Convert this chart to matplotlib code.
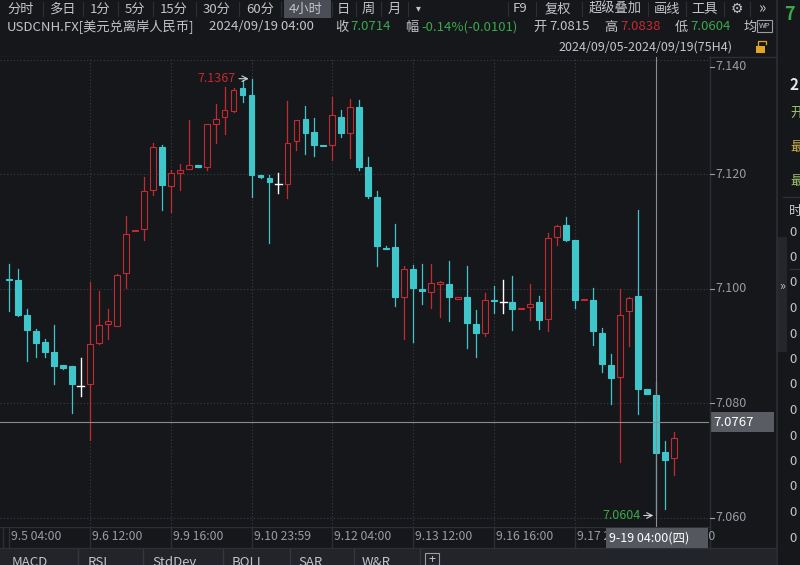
import matplotlib
matplotlib.use("Agg")
import matplotlib.pyplot as plt
from matplotlib.patches import Rectangle
from matplotlib.transforms import Bbox, TransformedBbox

plt.rcParams['font.family'] = ['Noto Sans CJK SC', 'DejaVu Sans']

# 4小时K线 USDCNH, 2024/09/05 - 2024/09/19, 75 根
opens = [7.1017, 7.1015, 7.0955, 7.0926, 7.0907, 7.0889, 7.0867, 7.0865, 7.0831, 7.0834,
         7.0906, 7.0939, 7.0935, 7.1028, 7.1101, 7.1104, 7.1173, 7.1247, 7.1180, 7.1202,
         7.1209, 7.1217, 7.1212, 7.1287, 7.1300, 7.1310, 7.1350, 7.1339, 7.1198, 7.1194,
         7.1183, 7.1183, 7.1258, 7.1296, 7.1274, 7.1252, 7.1252, 7.1300, 7.1273, 7.1317,
         7.1213, 7.1161, 7.1072, 7.1073, 7.0986, 7.1035, 7.1000, 7.0995, 7.1008, 7.1009,
         7.0983, 7.0985, 7.0939, 7.0923, 7.0981, 7.0977, 7.0977, 7.0964, 7.0969, 7.0977,
         7.0948, 7.1090, 7.1112, 7.1085, 7.0980, 7.0980, 7.0923, 7.0867, 7.0846, 7.0961,
         7.0987, 7.0825, 7.0815, 7.0715, 7.0704]
highs = [7.1044, 7.1034, 7.0965, 7.0930, 7.0912, 7.0937, 7.0867, 7.0865, 7.0879, 7.1012,
         7.0996, 7.0965, 7.1025, 7.1128, 7.1103, 7.1196, 7.1255, 7.1251, 7.1208, 7.1218,
         7.1294, 7.1217, 7.1288, 7.1323, 7.1352, 7.1350, 7.1364, 7.1367, 7.1198, 7.1199,
         7.1203, 7.1328, 7.1294, 7.1319, 7.1299, 7.1252, 7.1335, 7.1313, 7.1332, 7.1330,
         7.1231, 7.1171, 7.1074, 7.1114, 7.1039, 7.1042, 7.1044, 7.1044, 7.1013, 7.1048,
         7.0985, 7.1039, 7.0963, 7.0993, 7.1005, 7.1015, 7.1022, 7.0966, 7.1008, 7.0987,
         7.1097, 7.1111, 7.1125, 7.1086, 7.0982, 7.1002, 7.0932, 7.0886, 7.1000, 7.0985,
         7.1138, 7.0825, 7.0838, 7.0734, 7.0750]
lows = [7.0961, 7.0952, 7.0874, 7.0880, 7.0880, 7.0834, 7.0860, 7.0783, 7.0812, 7.0735,
        7.0903, 7.0913, 7.0935, 7.1002, 7.1101, 7.1086, 7.1164, 7.1138, 7.1134, 7.1173,
        7.1209, 7.1213, 7.1208, 7.1254, 7.1271, 7.1309, 7.1326, 7.1161, 7.1193, 7.1080,
        7.1167, 7.1158, 7.1242, 7.1235, 7.1232, 7.1251, 7.1225, 7.1266, 7.1228, 7.1208,
        7.1158, 7.1039, 7.1069, 7.0970, 7.0912, 7.0907, 7.0973, 7.0967, 7.0950, 7.0944,
        7.0982, 7.0896, 7.0881, 7.0918, 7.0958, 7.0958, 7.0928, 7.0964, 7.0946, 7.0930,
        7.0926, 7.1077, 7.1084, 7.0967, 7.0980, 7.0901, 7.0854, 7.0799, 7.0697, 7.0900,
        7.0781, 7.0816, 7.0604, 7.0616, 7.0674]
closes = [7.1015, 7.0955, 7.0928, 7.0906, 7.0890, 7.0866, 7.0862, 7.0834, 7.0831, 7.0904,
          7.0937, 7.0944, 7.1024, 7.1096, 7.1103, 7.1171, 7.1248, 7.1181, 7.1203, 7.1208,
          7.1216, 7.1213, 7.1287, 7.1297, 7.1312, 7.1348, 7.1339, 7.1199, 7.1196, 7.1186,
          7.1183, 7.1254, 7.1294, 7.1272, 7.1252, 7.1251, 7.1303, 7.1272, 7.1317, 7.1213,
          7.1162, 7.1074, 7.1071, 7.0986, 7.1035, 7.1001, 7.0996, 7.1010, 7.1012, 7.0986,
          7.0985, 7.0941, 7.0923, 7.0980, 7.0979, 7.0977, 7.0965, 7.0966, 7.0974, 7.0946,
          7.1088, 7.1110, 7.1085, 7.0981, 7.0982, 7.0926, 7.0868, 7.0844, 7.0955, 7.0984,
          7.0825, 7.0816, 7.0714, 7.0701, 7.0740]

tick_idx = [0, 9, 18, 27, 36, 45, 54, 63, 72]
tick_labels = ['9.5 04:00', '9.6 12:00', '9.9 16:00', '9.10 23:59', '9.12 04:00',
               '9.13 12:00', '9.16 16:00', '9.17 20:00', '9.18 20:00']
price_ticks = [7.060, 7.080, 7.100, 7.120, 7.140]

hi_idx, hi_val = 27, 7.1367
lo_idx, lo_val = 72, 7.0604
cross_idx, cross_val = 72, 7.0767
cross_label = '9-19 04:00(四)'

BG = '#15171b'
RED = '#c42a30'
CYAN = '#3ec6cb'
GREEN = '#3aa84c'
GRID = '#3a3d44'
TXT = '#c3c5ca'
DIM = '#9a9ca3'
LINE = '#2c2f35'

W, H = 800, 565
fig = plt.figure(figsize=(8, 5.65), dpi=100, facecolor=BG)

# 背景层, 像素坐标
bg = fig.add_axes([0, 0, 1, 1])
bg.set_xlim(0, W)
bg.set_ylim(H, 0)
bg.axis('off')
bg.set_facecolor(BG)

# 第一行: 周期按钮
tabs = [('分时', 7), ('多日', 49), ('1分', 90), ('5分', 125), ('15分', 160), ('30分', 203),
        ('60分', 246), ('4小时', 289), ('日', 337), ('周', 362), ('月', 388)]
bg.add_patch(Rectangle((284, 0), 47, 18, color='#4b4e56', lw=0))
for t, x in tabs:
    bg.text(x, 9, t, color=TXT, fontsize=9.5, va='center', ha='left')
for x in [43, 83, 118, 153, 196, 239, 281, 332, 356, 381, 408]:
    bg.plot([x, x], [2, 16], color=LINE, lw=0.8)
bg.text(418, 8, '▾', color=TXT, fontsize=7, va='center', ha='center')
for t, x in [('F9', 513), ('复权', 545), ('超级叠加', 589), ('画线', 654), ('工具', 691)]:
    bg.text(x, 9, t, color=TXT, fontsize=9.5, va='center', ha='left')
for x in [508, 536, 582, 648, 686, 724, 750]:
    bg.plot([x, x], [2, 16], color=LINE, lw=0.8)
bg.text(737, 9, '⚙', color=TXT, fontsize=10, va='center', ha='center')
bg.text(762, 9, '»', color=TXT, fontsize=11, va='center', ha='center')

# 第二行: 行情信息
row = 27
bg.text(7, row, 'USDCNH.FX[美元兑离岸人民币]', color=TXT, fontsize=9.5, va='center')
bg.text(209, row, '2024/09/19 04:00', color=TXT, fontsize=9.5, va='center')
bg.text(335, row, '收', color=TXT, fontsize=9.5, va='center')
bg.text(350, row, '7.0714', color=GREEN, fontsize=9.5, va='center')
bg.text(405, row, '幅', color=TXT, fontsize=9.5, va='center')
bg.text(421, row, '-0.14%(-0.0101)', color=GREEN, fontsize=9.5, va='center')
bg.text(533, row, '开', color=TXT, fontsize=9.5, va='center')
bg.text(549, row, '7.0815', color=TXT, fontsize=9.5, va='center')
bg.text(604, row, '高', color=TXT, fontsize=9.5, va='center')
bg.text(620, row, '7.0838', color=RED, fontsize=9.5, va='center')
bg.text(675, row, '低', color=TXT, fontsize=9.5, va='center')
bg.text(690, row, '7.0604', color=GREEN, fontsize=9.5, va='center')
bg.text(744, row, '均', color=TXT, fontsize=9.5, va='center')
bg.add_patch(Rectangle((757, 20), 15, 12, fc='none', ec=DIM, lw=0.8))
bg.text(764.5, 26, 'WP', color=TXT, fontsize=5.5, va='center', ha='center')

# 第三行: 区间
bg.text(732, 47, '2024/09/05-2024/09/19(75H4)', color=TXT, fontsize=9, va='center', ha='right')
bg.add_patch(Rectangle((756, 46), 9, 7, color='#e0a526', lw=0))
bg.plot([758, 758, 766, 766], [46, 41, 41, 44], color='#e0a526', lw=0.9)
bg.plot([0, 776], [57, 57], color=LINE, lw=1)

# 右侧面板
bg.plot([776.5, 776.5], [0, H], color=LINE, lw=1.2)
bg.text(784, 15, '7', color=GREEN, fontsize=13, va='center', fontweight='bold')
bg.text(789, 85, '2', color='#e6e6e6', fontsize=11, va='center', fontweight='bold')
bg.text(790, 113, '开', color='#9cc46a', fontsize=9.5, va='center')
bg.text(790, 147, '最', color='#c9b04a', fontsize=9.5, va='center')
bg.text(790, 181, '最', color='#9cc46a', fontsize=9.5, va='center')
bg.plot([783, 800], [197, 197], color=LINE, lw=1)
bg.text(789, 212, '时', color=TXT, fontsize=9.5, va='center')
for k in range(13):
    bg.text(789, 232 + k * 25.5, '0', color=TXT, fontsize=9.5, va='center')
bg.plot([790, 800], [269, 269], color=LINE, lw=1)
bg.add_patch(Rectangle((777, 237), 10, 115, color='#24262b', lw=0))
bg.text(782, 286, '»', color=TXT, fontsize=9, va='center', ha='center')

# 价格轴
ymin, ymax = 7.05839, 7.14049
def py(v):
    return 57 + (ymax - v) / (ymax - ymin) * 470

bg.plot([709.5, 709.5], [57, 547], color=LINE, lw=1)
for v in price_ticks:
    y = max(py(v), 67)
    bg.plot([710, 714], [y, y], color=DIM, lw=0.8)
    bg.text(715, y, f'{v:.3f}', color=DIM, fontsize=9, va='center')
bg.add_patch(Rectangle((710, py(cross_val) - 10), 64, 20, color='#5a5c63', lw=0))
bg.text(713, py(cross_val), f'{cross_val:.4f}', color='white', fontsize=9.5, va='center')

# 时间轴
def px(i):
    return 8.7 + 8.993 * i

# 十字光标日期框挡住的部分裁掉
box_x0, box_x1 = 606, 708
left_clip = TransformedBbox(Bbox([[0, 0], [box_x0, H]]), bg.transData)
right_clip = TransformedBbox(Bbox([[box_x1, 0], [W, H]]), bg.transData)

bg.plot([0, 709], [527, 527], color=LINE, lw=1)
for i, lab in zip(tick_idx, tick_labels):
    x = px(i)
    bg.plot([x, x], [527, 547], color=LINE, lw=1)
    t = bg.text(x + 2, 537, lab, color=DIM, fontsize=8.8, va='center')
    if x + 60 > box_x0:
        t.set_clip_box(left_clip if x < box_x0 else right_clip)
        t.set_clip_on(True)
bg.plot([3, 3], [57, 547], color=LINE, lw=1)
bg.add_patch(Rectangle((box_x0, 528), box_x1 - box_x0, 20, color='#55575e', lw=0, zorder=5))
bg.text(609, 538, cross_label, color='white', fontsize=9, va='center', zorder=6)

# 左边缘
bg.add_patch(Rectangle((0, 85), 3, 72, color='#5c5e64', lw=0))
for y in [246, 337]:
    bg.plot([0, 4], [y, y], color='#44474e', lw=1)

# 底部指标栏
bg.add_patch(Rectangle((0, 548), 776, 17, color='#222429', lw=0))
bg.plot([0, 776], [548, 548], color=LINE, lw=1)
for t, x in [('MACD', 12), ('RSI', 88), ('StdDev', 152), ('BOLL', 232), ('SAR', 298), ('W&R', 362)]:
    bg.text(x, 562, t, color=TXT, fontsize=9.5, va='center')
for x in [78, 143, 223, 290, 354, 420]:
    bg.plot([x, x], [549, 565], color='#34373d', lw=1)
bg.add_patch(Rectangle((425, 553), 14, 12, fc='none', ec=DIM, lw=0.8))
bg.text(432, 560, '+', color=TXT, fontsize=9, va='center', ha='center')

# K线主图
ax = fig.add_axes([0, 38 / H, 709 / W, 470 / H])
ax.set_facecolor(BG)
ax.set_xlim(-8.7 / 8.993, (709 - 8.7) / 8.993)
ax.set_ylim(ymin, ymax)
for s in ax.spines.values():
    s.set_visible(False)
ax.set_xticks([])
ax.set_yticks([])

for v in price_ticks:
    ax.axhline(v, color=GRID, lw=0.8, ls=(0, (1, 2)), zorder=1)
for i in tick_idx[1:8]:
    ax.axvline(i, color=GRID, lw=0.8, ls=(0, (1, 2)), zorder=1)

bw = 0.66
minh = 0.00022
for i, (o, h, l, c) in enumerate(zip(opens, highs, lows, closes)):
    top, bot = max(o, c), min(o, c)
    if c > o:
        ax.plot([i, i], [top, h], color=RED, lw=0.9, zorder=3)
        ax.plot([i, i], [l, bot], color=RED, lw=0.9, zorder=3)
        hgt = max(top - bot, minh)
        ax.add_patch(Rectangle((i - bw / 2, bot), bw, hgt, fc=BG, ec=RED, lw=0.8, zorder=4))
    elif c < o:
        ax.plot([i, i], [l, h], color=CYAN, lw=0.9, zorder=3)
        hgt = max(top - bot, minh)
        ax.add_patch(Rectangle((i - bw / 2, top - hgt), bw, hgt, fc=CYAN, ec=CYAN, lw=0.8, zorder=4))
    else:
        ax.plot([i, i], [l, h], color='white', lw=1, zorder=3)
        ax.plot([i - bw / 2 - 0.05, i + bw / 2 + 0.05], [o, o], color='white', lw=1, zorder=3)

# 十字光标
ax.axvline(cross_idx, color='#8a8c92', lw=0.8, zorder=5)
ax.axhline(cross_val, color='#8a8c92', lw=0.8, zorder=5)

# 最高/最低标注
ax.annotate('', xy=(hi_idx, hi_val), xytext=(hi_idx - 1.7, hi_val),
            arrowprops=dict(arrowstyle='->', color='#d0d2d6', lw=0.8), zorder=6)
ax.text(hi_idx - 1.75, hi_val, f'{hi_val:.4f}', color=RED, fontsize=9, va='center', ha='right', zorder=6)
ax.annotate('', xy=(lo_idx, lo_val), xytext=(lo_idx - 1.7, lo_val),
            arrowprops=dict(arrowstyle='->', color='#d0d2d6', lw=0.8), zorder=6)
ax.text(lo_idx - 1.75, lo_val, f'{lo_val:.4f}', color=GREEN, fontsize=9, va='center', ha='right', zorder=6)

fig.savefig('out.png', dpi=100, facecolor=BG)
